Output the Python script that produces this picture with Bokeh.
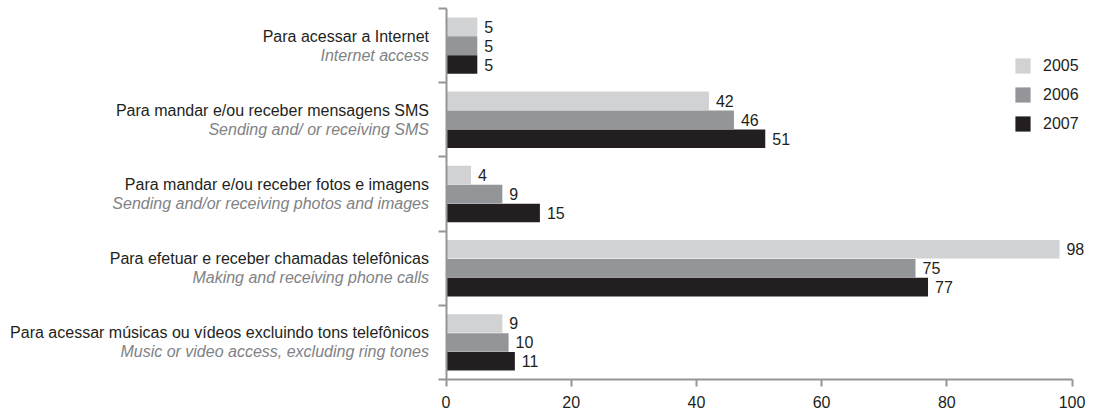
from bokeh.plotting import figure
from bokeh.models import (Range1d, FixedTicker, Label, LabelSet, ColumnDataSource,
                          Legend, LegendItem)
from bokeh.core.properties import value
from bokeh.embed import file_html
from bokeh.resources import INLINE

# ---- data (top to bottom) ----
categories_pt = [
    "Para acessar a Internet",
    "Para mandar e/ou receber mensagens SMS",
    "Para mandar e/ou receber fotos e imagens",
    "Para efetuar e receber chamadas telefônicas",
    "Para acessar músicas ou vídeos excluindo tons telefônicos",
]
categories_en = [
    "Internet access",
    "Sending and/ or receiving SMS",
    "Sending and/or receiving photos and images",
    "Making and receiving phone calls",
    "Music or video access, excluding ring tones",
]
years = ["2005", "2006", "2007"]
v2005 = [5, 42, 4, 98, 9]
v2006 = [5, 46, 9, 75, 10]
v2007 = [5, 51, 15, 77, 11]
x_ticks = [0, 20, 40, 60, 80, 100]

colors = ["#d1d2d4", "#939598", "#231f20"]
FONT = "Liberation Sans"
AXIS_COLOR = "#939598"

W, H = 1093, 415
# pixel geometry of the plotting area inside the canvas
X0_PX, X100_PX = 445.5, 1071.5
Y_TOP_PX, Y_BOT_PX = 8.0, 379.0
n = len(categories_pt)
xs = (X100_PX - X0_PX) / 100.0
ys_ = (Y_BOT_PX - Y_TOP_PX) / n
x_range = Range1d(-X0_PX / xs, 100 + (W - X100_PX) / xs)
y_range = Range1d(n + (H - Y_BOT_PX) / ys_, -Y_TOP_PX / ys_)

p = figure(width=W, height=H, output_backend="svg", toolbar_location=None,
           x_range=x_range, y_range=y_range,
           min_border_left=0, min_border_right=0, min_border_top=0, min_border_bottom=0,
           frame_width=W, frame_height=H)
p.outline_line_color = None
p.grid.visible = False
p.background_fill_color = "white"
p.border_fill_color = "white"

centers = [i + 0.5 for i in range(n)]
step = 0.255
renderers = []
for k, (yr, vals, col) in enumerate(zip(years, [v2005, v2006, v2007], colors)):
    off = (k - 1) * step
    yy = [c + off for c in centers]
    src = ColumnDataSource(dict(y=yy, v=vals, t=[str(v) for v in vals]))
    r = p.hbar(y="y", left=0, right="v", height=0.25, source=src,
               fill_color=col, line_color=None)
    renderers.append(r)
    ls = LabelSet(x="v", y="y", text="t", source=src, x_offset=7, y_offset=0,
                  text_font=value(FONT), text_font_size="16px", text_color="#231f20",
                  text_baseline="middle", text_align="left")
    p.add_layout(ls)

# category labels (two lines)
for c, pt, en in zip(centers, categories_pt, categories_en):
    p.add_layout(Label(x=0, y=c, x_offset=-17, y_offset=9.5, text=pt,
                       text_align="right", text_baseline="middle",
                       text_font=FONT, text_font_size="16px", text_color="#231f20"))
    p.add_layout(Label(x=0, y=c, x_offset=-17, y_offset=-9.5, text=en,
                       text_align="right", text_baseline="middle",
                       text_font=FONT, text_font_size="16px", text_font_style="italic",
                       text_color="#808285"))

# x axis (drawn at the bottom category boundary)
xa = p.xaxis[0]
xa.fixed_location = n
xa.bounds = (0, 100)
xa.ticker = FixedTicker(ticks=x_ticks)
xa.axis_line_color = AXIS_COLOR
xa.axis_line_width = 2
xa.major_tick_line_color = AXIS_COLOR
xa.major_tick_line_width = 2
xa.major_tick_out = 7
xa.major_tick_in = 0
xa.minor_tick_line_color = None
xa.major_label_text_font = FONT
xa.major_label_text_font_size = "16px"
xa.major_label_text_color = "#231f20"
xa.major_label_standoff = 9

# y axis: ticks at category boundaries, no labels
ya = p.yaxis[0]
ya.fixed_location = 0
ya.bounds = (0, n)
ya.ticker = FixedTicker(ticks=list(range(n + 1)))
ya.major_label_overrides = {i: "" for i in range(n + 1)}
ya.axis_line_color = AXIS_COLOR
ya.axis_line_width = 2
ya.major_tick_line_color = AXIS_COLOR
ya.major_tick_line_width = 2
ya.major_tick_out = 8
ya.major_tick_in = 0
ya.minor_tick_line_color = None

legend = Legend(items=[LegendItem(label=y, renderers=[r]) for y, r in zip(years, renderers)],
                location=(1013, 282), glyph_width=19, glyph_height=19, label_height=19,
                label_standoff=11, spacing=10, padding=0, margin=0,
                border_line_color=None, background_fill_alpha=0,
                label_text_font=FONT, label_text_font_size="16px", label_text_color="#231f20")
p.add_layout(legend, "center")

open("out.html", "w").write(file_html(p, INLINE))
